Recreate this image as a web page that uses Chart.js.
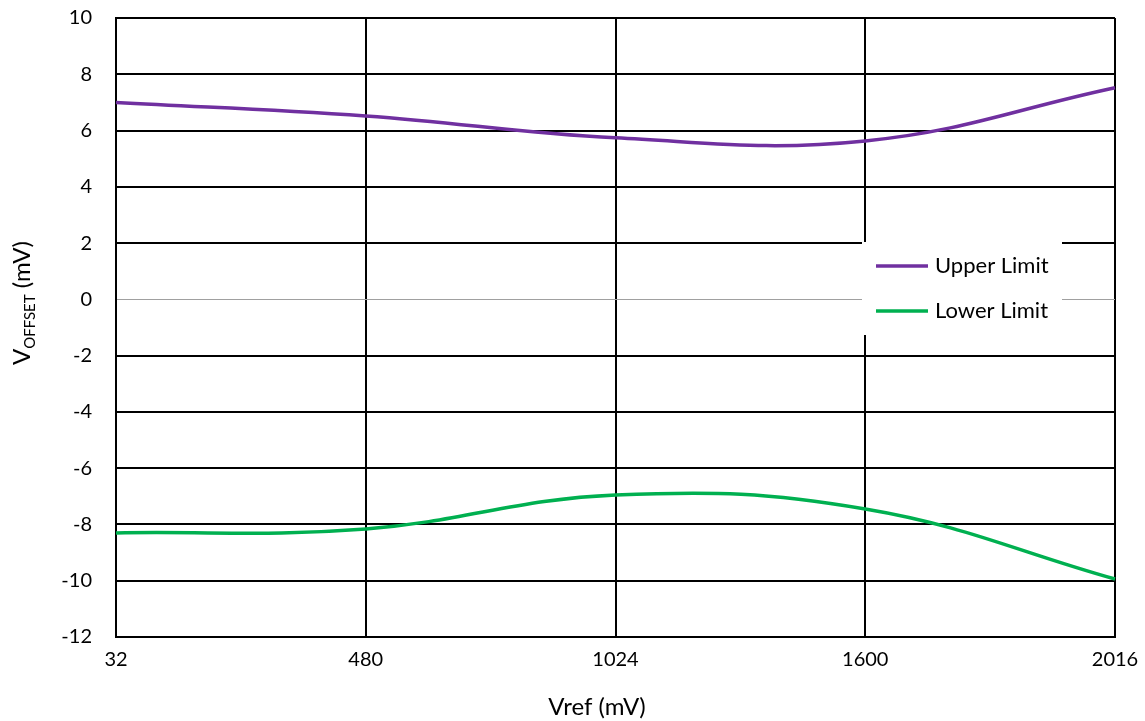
<!DOCTYPE html>
<html>
<head>
<meta charset="utf-8">
<script src="https://cdn.jsdelivr.net/npm/chart.js@4.4.1/dist/chart.umd.min.js"></script>
<style>
  html, body { margin: 0; padding: 0; background: #fff; }
  #wrap { width: 1145px; height: 721px; position: relative; }
</style>
</head>
<body>
<div id="wrap"><canvas id="chart"></canvas></div>
<script>
// values
const categories = ['32', '480', '1024', '1600', '2016'];
const upperLimit = [7.0, 6.52, 5.74, 5.63, 7.52];
const lowerLimit = [-8.3, -8.16, -6.95, -7.45, -9.94];
const yMin = -12, yMax = 10, yStep = 2;

const FONT = 'Lato, "Open Sans", sans-serif';

// axis titles drawn by hand (the y one has a subscript)
const titlesPlugin = {
    id: 'titles',
    afterDraw(chart) {
        const c = chart.ctx;
        const parts = [
            { t: 'V', size: 24, dy: 0 },
            { t: 'OFFSET', size: 15, dy: 5 },
            { t: ' (mV)', size: 24, dy: 0 }
        ];
        let total = 0;
        parts.forEach(p => { c.font = p.size + 'px ' + FONT; p.w = c.measureText(p.t).width; total += p.w; });
        c.save();
        c.fillStyle = '#000';
        c.translate(30, 303);
        c.rotate(-Math.PI / 2);
        c.textBaseline = 'alphabetic';
        let x = -total / 2;
        parts.forEach(p => {
            c.font = p.size + 'px ' + FONT;
            c.fillText(p.t, x, p.dy);
            x += p.w;
        });
        c.restore();

        c.save();
        c.fillStyle = '#000';
        c.font = '24px ' + FONT;
        c.textAlign = 'center';
        c.textBaseline = 'middle';
        c.fillText('Vref (mV)', 597, 707);
        c.restore();
    }
};

// legend box sitting over the plot, white background
const boxLegend = {
    id: 'boxLegend',
    afterDatasetsDraw(chart) {
        const c = chart.ctx;
        const area = chart.chartArea;
        const bx = area.right - 253, by = 242, bw = 200, bh = 93;
        c.save();
        c.fillStyle = '#fff';
        c.fillRect(bx, by, bw, bh);
        c.font = '22px ' + FONT;
        c.textBaseline = 'middle';
        chart.data.datasets.forEach((ds, i) => {
            const y = by + 24 + i * 45;
            c.strokeStyle = ds.borderColor;
            c.lineWidth = ds.borderWidth;
            c.beginPath();
            c.moveTo(bx + 14, y);
            c.lineTo(bx + 66, y);
            c.stroke();
            c.fillStyle = '#000';
            c.fillText(ds.label, bx + 73, y);
        });
        c.restore();
    }
};

const ctx = document.getElementById('chart').getContext('2d');
const chart = new Chart(ctx, {
    type: 'line',
    data: {
        labels: categories,
        datasets: [{
            label: 'Upper Limit',
            data: upperLimit,
            borderColor: '#7030A0',
            borderWidth: 3.5,
            pointRadius: 0,
            tension: 0.4,
            fill: false
        }, {
            label: 'Lower Limit',
            data: lowerLimit,
            borderColor: '#00B050',
            borderWidth: 3.5,
            pointRadius: 0,
            tension: 0.4,
            fill: false
        }]
    },
    options: {
        responsive: true,
        maintainAspectRatio: false,
        animation: false,
        layout: { padding: { left: 0, right: 30, top: 18, bottom: 0 } },
        plugins: {
            legend: { display: false },
            tooltip: { enabled: false }
        },
        scales: {
            x: {
                offset: false,
                grid: { color: '#000', lineWidth: 2, drawTicks: false },
                border: { color: '#000', width: 2 },
                ticks: { color: '#000', font: { family: FONT, size: 20 }, padding: 11, maxRotation: 0 },
                afterFit(s) {
                    s.height = 84;
                    s.paddingLeft = 0; s.paddingRight = 0;
                }
            },
            y: {
                min: yMin,
                max: yMax,
                grid: {
                    drawTicks: false,
                    color: c => c.tick && c.tick.value === 0 ? '#a0a0a0' : '#000',
                    lineWidth: c => c.tick && c.tick.value === 0 ? 1 : 2
                },
                border: { color: '#000', width: 2 },
                ticks: { stepSize: yStep, color: '#000', font: { family: FONT, size: 20 }, padding: 24 },
                afterFit(s) {
                    s.width = 116;
                    s.paddingTop = 0; s.paddingBottom = 0;
                }
            }
        }
    },
    plugins: [boxLegend, titlesPlugin]
});
</script>
</body>
</html>
